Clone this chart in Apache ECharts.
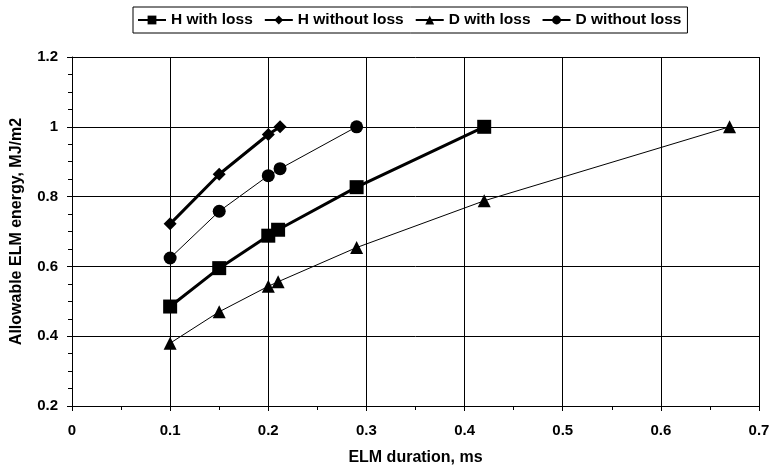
<!DOCTYPE html>
<html>
<head>
<meta charset="utf-8">
<script src="https://cdn.jsdelivr.net/npm/echarts@6/dist/echarts.min.js"></script>
<style>html,body{margin:0;padding:0;background:#fff}#c{width:771px;height:466px}</style>
</head>
<body>
<div id="c"></div>
<script>
const seriesNames = ['H with loss', 'H without loss', 'D with loss', 'D without loss'];
const hWithLossX = [0.1, 0.15, 0.2, 0.21, 0.29, 0.42];
const hWithLossY = [0.485, 0.595, 0.688, 0.705, 0.827, 1.0];
const hWithoutLossX = [0.1, 0.15, 0.2, 0.212];
const hWithoutLossY = [0.722, 0.864, 0.978, 1.0];
const dWithLossX = [0.1, 0.15, 0.2, 0.21, 0.29, 0.42, 0.67];
const dWithLossY = [0.38, 0.47, 0.543, 0.556, 0.654, 0.788, 1.0];
const dWithoutLossX = [0.1, 0.15, 0.2, 0.212, 0.29];
const dWithoutLossY = [0.624, 0.758, 0.86, 0.88, 1.0];
const xTitle = 'ELM duration, ms';
const yTitle = 'Allowable ELM energy, MJ/m2';

const pair = (xs, ys) => xs.map((x, i) => [x, ys[i]]);
const font = 'Liberation Sans, Arial, sans-serif';
const chart = echarts.init(document.getElementById('c'), null, {renderer: 'canvas'});
const mk = (name, xs, ys, symbol, size, width) => ({
  name, type: 'line', data: pair(xs, ys), symbol, symbolSize: size,
  showAllSymbol: true,
  lineStyle: {color: '#000', width}, itemStyle: {color: '#000'},
  emphasis: {disabled: true}, animation: false
});
chart.setOption({
  animation: false,
  legend: {
    top: 7, left: 133,
    data: seriesNames,
    borderColor: '#000', borderWidth: 1, padding: [5, 6, 5, 4],
    itemGap: 11, itemWidth: 28, itemHeight: 11,
    textStyle: {fontFamily: font, fontWeight: 'bold', fontSize: 15.5, color: '#000'}
  },
  grid: {left: 72, right: 12, top: 57, bottom: 60, containLabel: false, outerBoundsMode: 'none'},
  xAxis: {
    type: 'value', min: 0, max: 0.7, interval: 0.1,
    name: xTitle, nameLocation: 'middle', nameGap: 44,
    nameTextStyle: {fontFamily: font, fontWeight: 'bold', fontSize: 16, color: '#000'},
    axisLine: {lineStyle: {color: '#000', width: 1}},
    axisTick: {show: true, inside: false, length: 5, lineStyle: {color: '#000'}},
    minorTick: {show: true, splitNumber: 2, length: 4, lineStyle: {color: '#000'}},
    axisLabel: {margin: 17, fontFamily: font, fontWeight: 'bold', fontSize: 15, color: '#000'},
    splitLine: {show: true, lineStyle: {color: '#000', width: 1}}
  },
  yAxis: {
    type: 'value', min: 0.2, max: 1.2, interval: 0.2,
    name: yTitle, nameLocation: 'middle', nameGap: 47, nameRotate: 90,
    nameTextStyle: {fontFamily: font, fontWeight: 'bold', fontSize: 16, color: '#000'},
    axisLine: {show: true, lineStyle: {color: '#000', width: 1}},
    axisTick: {show: true, inside: false, length: 5, lineStyle: {color: '#000'}},
    minorTick: {show: true, splitNumber: 4, length: 4, lineStyle: {color: '#000'}},
    axisLabel: {margin: 14, fontFamily: font, fontWeight: 'bold', fontSize: 15, color: '#000',
      formatter: v => String(Math.round(v * 10) / 10)},
    splitLine: {show: true, lineStyle: {color: '#000', width: 1}}
  },
  series: [
    mk(seriesNames[0], hWithLossX, hWithLossY, 'rect', 14, 3),
    mk(seriesNames[1], hWithoutLossX, hWithoutLossY, 'diamond', 13, 3),
    mk(seriesNames[2], dWithLossX, dWithLossY, 'triangle', 13, 1),
    mk(seriesNames[3], dWithoutLossX, dWithoutLossY, 'circle', 13, 1)
  ]
});
</script>
</body>
</html>
